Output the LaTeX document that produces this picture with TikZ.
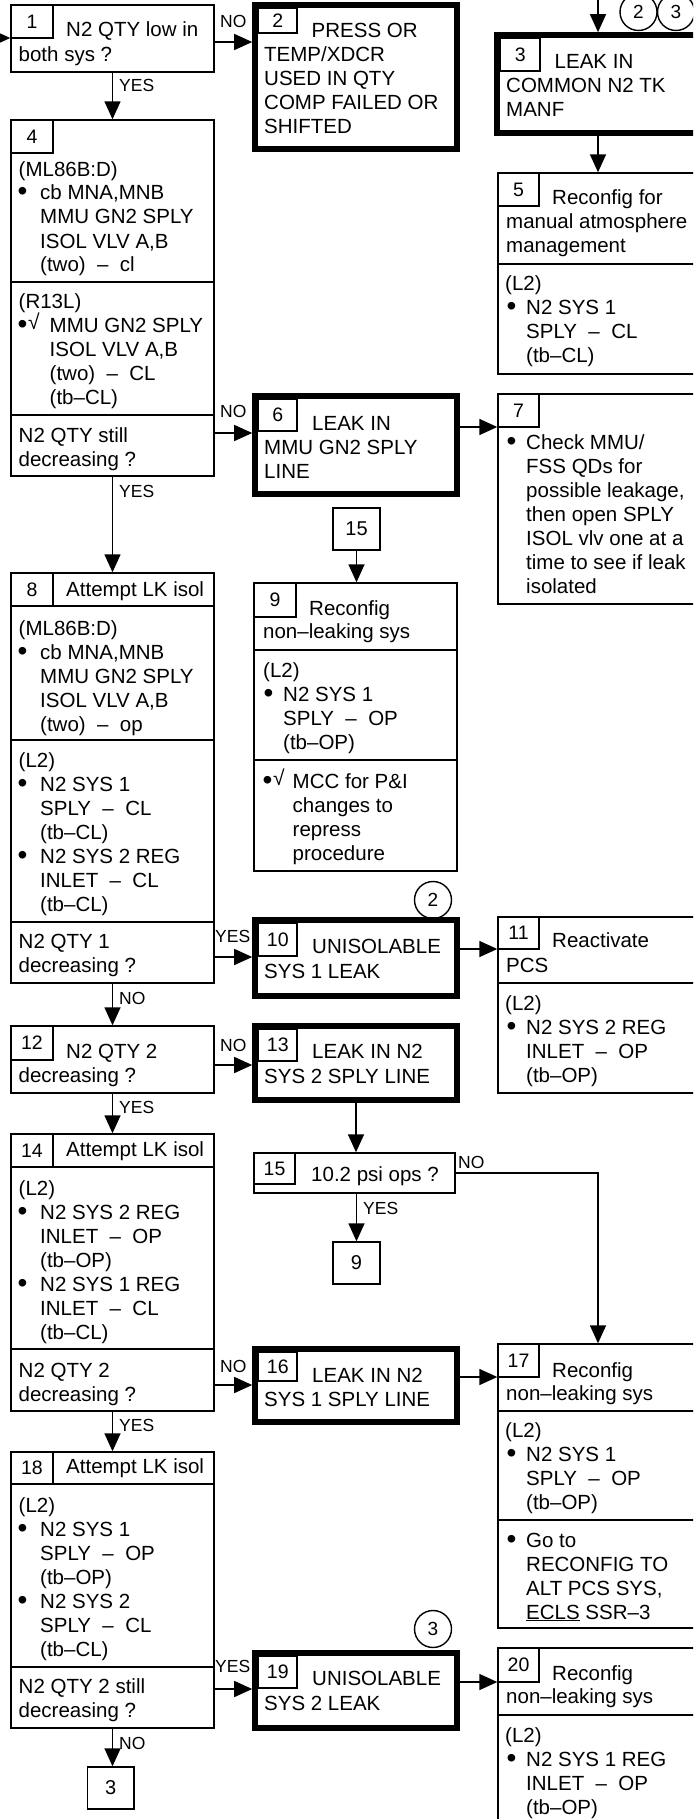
\documentclass[tikz,border=0pt]{standalone}
\usepackage{fontspec}
\setmainfont{Liberation Sans}
\usetikzlibrary{arrows.meta}
\newcommand\Lines[4]{\foreach \tx [count=\ii] in {#4}{\node[txt] (#1-\ii) at (#2,{-(#3)-24*(\ii-1)}) {\tx};}}
\newcommand\mkbox[6]{\pgfmathsetmacro\mbW{#5-#3}\pgfmathsetmacro\mbH{#6-#4}\pgfmathsetmacro\mbX{(#3+#5)/2}\pgfmathsetmacro\mbY{-(#4+#6)/2}\node[#2, minimum width=\mbW pt, minimum height=\mbH pt] (#1) at (\mbX,\mbY) {};}
\newcommand\mknum[7]{\pgfmathsetmacro\mbW{#5-#3}\pgfmathsetmacro\mbH{#6-#4}\pgfmathsetmacro\mbX{(#3+#5)/2}\pgfmathsetmacro\mbY{-(#4+#6)/2}\node[#7, minimum width=\mbW pt, minimum height=\mbH pt] (#1) at (\mbX,\mbY) {#2};}
\newcommand\bul[3]{\node[bulst] (#1) at (#2-1.5,{-(#3)-1}) {•};}
\newcommand\chk[3]{\node[chkst] (#1) at (#2,-#3) {√};}
\newcommand\lab[4]{\node[lbl] (#1) at (#2,-#3) {#4};}
\tikzset{
  txt/.style={inner sep=0pt, anchor=base west, font=\fontsize{20.5}{24}\selectfont},
  bulst/.style={inner sep=0pt, anchor=base west, font=\fontsize{28}{24}\selectfont},
  lbl/.style={inner sep=0pt, anchor=base west, font=\fontsize{17.5}{20}\selectfont},
  chkst/.style={inner sep=0pt, anchor=base west, font=\fontsize{21}{24}\selectfont},
  thinbox/.style={draw, line width=1.4pt, inner sep=0pt},
  thickbox/.style={draw, line width=5.6pt, inner sep=0pt},
  numbox/.style={draw, line width=1.4pt, inner sep=0pt, font=\fontsize{19.5}{22}\selectfont},
  refbox/.style={draw, line width=1.4pt, inner sep=0pt, font=\fontsize{20}{22}\selectfont},
  circ/.style={draw, circle, line width=1.4pt, minimum size=37pt, inner sep=0pt, font=\fontsize{19}{22}\selectfont},
  divl/.style={line width=1.4pt},
  arr/.style={line width=1.5pt, -{Triangle[length=18pt,width=16pt]}}
}
\begin{document}
\begin{tikzpicture}[x=1pt,y=1pt]
\useasboundingbox (0,0) rectangle (693,-1819);
\clip (0,0) rectangle (693,-1819);
% ---------- boxes ----------
\mkbox{B1}{thinbox}{11}{5}{214}{72}
\mkbox{B4}{thinbox}{11}{120}{214}{476}
\mkbox{B8}{thinbox}{11}{573}{214}{983}
\mkbox{B12}{thinbox}{11}{1026}{214}{1093}
\mkbox{B14}{thinbox}{11}{1134}{214}{1411}
\mkbox{B18}{thinbox}{11}{1452}{214}{1728}
\mkbox{B9}{thinbox}{254}{583}{457}{871}
\mkbox{B15}{thinbox}{254}{1153}{455}{1193}
\mkbox{B5}{thinbox}{498}{173}{720}{374}
\mkbox{B7}{thinbox}{498}{394}{720}{604}
\mkbox{B11}{thinbox}{498}{917}{720}{1093}
\mkbox{B17}{thinbox}{498}{1344}{720}{1628}
\mkbox{B20}{thinbox}{498}{1648}{720}{1860}
\mkbox{B2}{thickbox}{255}{5}{457}{149}
\mkbox{B6}{thickbox}{255}{396}{457}{494}
\mkbox{B10}{thickbox}{255}{920}{457}{996}
\mkbox{B13}{thickbox}{255}{1026}{457}{1100}
\mkbox{B16}{thickbox}{255}{1349}{457}{1422}
\mkbox{B19}{thickbox}{255}{1653}{457}{1728}
\mkbox{B3}{thickbox}{497}{35}{720}{133}
% reference boxes
\mknum{R15}{15}{333}{508}{380}{550}{refbox}
\mknum{R9}{9}{333}{1242}{380}{1284}{refbox}
\mknum{R3}{3}{87.5}{1767}{134}{1809}{refbox}
% number boxes
\mknum{N1}{1}{11}{5}{53}{38}{numbox}
\mknum{N2}{2}{258.5}{8.5}{297}{33}{numbox}
\mknum{N3}{3}{500.5}{38}{540}{71}{numbox}
\mknum{N4}{4}{11}{120}{53}{153}{numbox}
\mknum{N5}{5}{498}{173}{539}{206}{numbox}
\mknum{N6}{6}{258.5}{399}{297}{431}{numbox}
\mknum{N7}{7}{498}{394}{539}{427}{numbox}
\mknum{N8}{8}{11}{573}{53}{606}{numbox}
\mknum{N9}{9}{254}{583}{296}{617}{numbox}
\mknum{N10}{10}{258.5}{923}{297}{956}{numbox}
\mknum{N11}{11}{498}{917}{539}{949}{numbox}
\mknum{N12}{12}{11}{1026}{53}{1060}{numbox}
\mknum{N13}{13}{258.5}{1029}{297}{1061}{numbox}
\mknum{N14}{14}{11}{1134}{53}{1167}{numbox}
\mknum{N15}{15}{254}{1153}{295}{1184}{numbox}
\mknum{N16}{16}{258.5}{1352}{297}{1381}{numbox}
\mknum{N17}{17}{498}{1344}{539}{1377}{numbox}
\mknum{N18}{18}{11}{1452}{53}{1484}{numbox}
\mknum{N19}{19}{258.5}{1656}{297}{1688}{numbox}
\mknum{N20}{20}{498}{1648}{539}{1682}{numbox}
% dividers
\foreach \b/\y in {B4/282,B4/415,B8/606,B8/740,B8/922,B9/650,B9/760,B14/1167,B14/1349,B18/1484,B18/1667,B5/264,B11/983,B17/1411,B17/1520,B20/1715}
  {\draw[divl] (\b.west |- 0,-\y) -- (\b.east |- 0,-\y);}
% circles
\node[circ] (C2a) at (638.5,-12) {2};
\node[circ] (C3a) at (676,-12) {3};
\node[circ] (C2b) at (433,-900) {2};
\node[circ] (C3b) at (433,-1629) {3};
% ---------- texts ----------
% box 1
\Lines{t1a}{66}{37}{N2 QTY low in}
\Lines{t1b}{18.5}{62}{both sys ?}
% box 2
\Lines{t2a}{311.5}{38}{PRESS OR}
\Lines{t2b}{264}{62}{TEMP/XDCR,USED IN QTY,COMP FAILED OR,SHIFTED}
% box 3
\Lines{t3a}{554.5}{69}{LEAK IN}
\Lines{t3b}{506}{93}{COMMON N2 TK,MANF}
% box 4
\Lines{t4a}{18.5}{177}{(ML86B:D)}
\bul{t4b}{19}{200}
\Lines{t4c}{40}{200}{{cb MNA,MNB},MMU GN2 SPLY,{ISOL VLV A,B},(two)\ \ –\ \ cl}
\Lines{t4d}{18.5}{308}{(R13L)}
\bul{t4e}{19}{332}
\chk{t4f}{28}{329}
\Lines{t4g}{49.5}{332}{MMU GN2 SPLY,{ISOL VLV A,B},(two)\ \ –\ \ CL,(tb–CL)}
\Lines{t4h}{18.5}{442}{N2 QTY still,decreasing ?}
% box 5
\Lines{t5a}{552}{205}{Reconfig for}
\Lines{t5b}{506}{229}{manual atmosphere,management}
\Lines{t5c}{505}{290}{(L2)}
\bul{t5d}{508}{314}
\Lines{t5e}{526}{314}{N2 SYS 1,SPLY\ \ –\ \ CL,(tb–CL)}
% box 6
\Lines{t6a}{312}{430}{LEAK IN}
\Lines{t6b}{264}{454}{MMU GN2 SPLY,LINE}
% box 7
\bul{t7a}{508}{449}
\Lines{t7b}{526}{449}{Check MMU/,FSS QDs for,{possible leakage,},then open SPLY,ISOL vlv one at a,time to see if leak,isolated}
% box 8
\Lines{t8a}{66}{596}{Attempt LK isol}
\Lines{t8b}{18.5}{635}{(ML86B:D)}
\bul{t8c}{19}{659}
\Lines{t8d}{40}{659}{{cb MNA,MNB},MMU GN2 SPLY,{ISOL VLV A,B},(two)\ \ –\ \ op}
\Lines{t8e}{18.5}{767}{(L2)}
\bul{t8f}{19}{791}
\Lines{t8g}{40}{791}{N2 SYS 1,SPLY\ \ –\ \ CL,(tb–CL)}
\bul{t8h}{19}{863}
\Lines{t8i}{40}{863}{N2 SYS 2 REG,INLET\ \ –\ \ CL,(tb–CL)}
\Lines{t8j}{18.5}{948}{N2 QTY 1,decreasing ?}
% box 9
\Lines{t9a}{309}{615}{Reconfig}
\Lines{t9b}{263}{638}{non–leaking sys}
\Lines{t9c}{263}{677}{(L2)}
\bul{t9d}{265}{701}
\Lines{t9e}{283}{701}{N2 SYS 1,SPLY\ \ –\ \ OP,(tb–OP)}
\bul{t9f}{264}{788}
\chk{t9g}{273}{785}
\Lines{t9h}{292.5}{788}{MCC for P\&I,changes to,repress,procedure}
% box 10
\Lines{t10a}{312}{953}{UNISOLABLE}
\Lines{t10b}{264}{978}{SYS 1 LEAK}
% box 11
\Lines{t11a}{552}{947}{Reactivate}
\Lines{t11b}{506}{972}{PCS}
\Lines{t11c}{505}{1010}{(L2)}
\bul{t11d}{508}{1034}
\Lines{t11e}{526}{1034}{N2 SYS 2 REG,INLET\ \ –\ \ OP,(tb–OP)}
% box 12
\Lines{t12a}{66}{1058}{N2 QTY 2}
\Lines{t12b}{18.5}{1082}{decreasing ?}
% box 13
\Lines{t13a}{312}{1058}{LEAK IN N2}
\Lines{t13b}{264}{1083}{SYS 2 SPLY LINE}
% box 14
\Lines{t14a}{66}{1156}{Attempt LK isol}
\Lines{t14b}{18.5}{1195}{(L2)}
\bul{t14c}{19}{1219}
\Lines{t14d}{40}{1219}{N2 SYS 2 REG,INLET\ \ –\ \ OP,(tb–OP)}
\bul{t14e}{19}{1291}
\Lines{t14f}{40}{1291}{N2 SYS 1 REG,INLET\ \ –\ \ CL,(tb–CL)}
\Lines{t14g}{18.5}{1377}{N2 QTY 2,decreasing ?}
% box 15
\Lines{t15a}{311}{1181}{10.2 psi ops ?}
% box 16
\Lines{t16a}{312}{1382}{LEAK IN N2}
\Lines{t16b}{264}{1406}{SYS 1 SPLY LINE}
% box 17
\Lines{t17a}{552}{1377}{Reconfig}
\Lines{t17b}{506}{1400}{non–leaking sys}
\Lines{t17c}{505}{1437}{(L2)}
\bul{t17d}{508}{1461}
\Lines{t17e}{526}{1461}{N2 SYS 1,SPLY\ \ –\ \ OP,(tb–OP)}
\bul{t17f}{508}{1547}
\Lines{t17g}{526}{1547}{Go to,RECONFIG TO,{ALT PCS SYS,},\underline{ECLS} SSR–3}
% box 18
\Lines{t18a}{66}{1473}{Attempt LK isol}
\Lines{t18b}{18.5}{1512}{(L2)}
\bul{t18c}{19}{1536}
\Lines{t18d}{40}{1536}{N2 SYS 1,SPLY\ \ –\ \ OP,(tb–OP)}
\bul{t18e}{19}{1608}
\Lines{t18f}{40}{1608}{N2 SYS 2,SPLY\ \ –\ \ CL,(tb–CL)}
\Lines{t18g}{18.5}{1693}{N2 QTY 2 still,decreasing ?}
% box 19
\Lines{t19a}{312}{1685}{UNISOLABLE}
\Lines{t19b}{264}{1710}{SYS 2 LEAK}
% box 20
\Lines{t20a}{552}{1680}{Reconfig}
\Lines{t20b}{506}{1703}{non–leaking sys}
\Lines{t20c}{505}{1742}{(L2)}
\bul{t20d}{508}{1766}
\Lines{t20e}{526}{1766}{N2 SYS 1 REG,INLET\ \ –\ \ OP,(tb–OP)}
% ---------- connectors ----------
\coordinate (in1) at (-12,-38);
\coordinate (top3) at (598,5);
\draw[arr] (in1) -- (B1.west |- in1);
\draw[arr] (B1.east |- 0,-42) -- (B2.west |- 0,-42);
\draw[arr] (B1.south) -- (B4.north);
\draw[arr] (B4.east |- 0,-433) -- (B6.west |- 0,-433);
\draw[arr] (B4.south) -- (B8.north);
\draw[arr] (B6.east |- 0,-427) -- (B7.west |- 0,-427);
\draw[arr] (top3) -- (top3 |- B3.north);
\draw[arr] (top3 |- B3.south) -- (top3 |- B5.north);
\draw[arr] (R15.south) -- (R15.south |- B9.north);
\draw[arr] (B8.east |- 0,-957) -- (B10.west |- 0,-957);
\draw[arr] (B10.east |- 0,-949) -- (B11.west |- 0,-949);
\draw[arr] (B8.south) -- (B12.north);
\draw[arr] (B12.east |- 0,-1065) -- (B13.west |- 0,-1065);
\draw[arr] (B12.south) -- (B14.north);
\draw[arr] (B13.south) -- (B13.south |- B15.north);
\draw[arr] (R9.north |- B15.south) -- (R9.north);
\draw[arr] (B15.east |- 0,-1173) -| (top3 |- B17.north);
\draw[arr] (B14.east |- 0,-1385) -- (B16.west |- 0,-1385);
\draw[arr] (B16.east |- 0,-1377) -- (B17.west |- 0,-1377);
\draw[arr] (B14.south) -- (B18.north);
\draw[arr] (B18.east |- 0,-1689) -- (B19.west |- 0,-1689);
\draw[arr] (B19.east |- 0,-1682) -- (B20.west |- 0,-1682);
\draw[arr] (B18.south) -- (B18.south |- R3.north);
% ---------- labels ----------
\lab{l1}{220}{28}{NO}
\lab{l2}{119}{92}{YES}
\lab{l3}{220}{417}{NO}
\lab{l4}{119}{497}{YES}
\lab{l5}{215}{942}{YES}
\lab{l6}{119}{1004}{NO}
\lab{l7}{220}{1051}{NO}
\lab{l8}{119}{1113}{YES}
\lab{l9}{458}{1168}{NO}
\lab{l10}{363}{1214}{YES}
\lab{l11}{220}{1372}{NO}
\lab{l12}{119}{1431}{YES}
\lab{l13}{215}{1672}{YES}
\lab{l14}{119}{1749}{NO}
\end{tikzpicture}
\end{document}
